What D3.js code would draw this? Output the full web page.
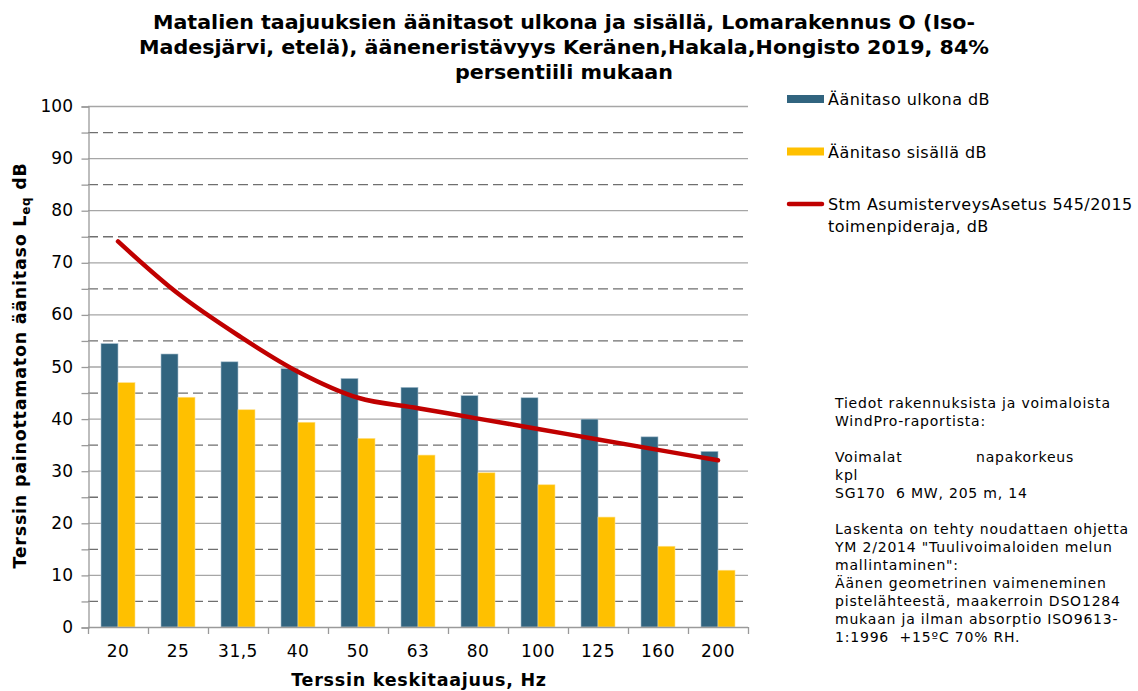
<!DOCTYPE html>
<html>
<head>
<meta charset="utf-8">
<script src="https://cdn.jsdelivr.net/npm/d3@7"></script>
<style>
  html, body { margin: 0; padding: 0; background: #fff; }
  svg { display: block; }
  text { font-family: "DejaVu Sans", Verdana, sans-serif; fill: #000; }
</style>
</head>
<body>
<svg id="chart" width="1138" height="691"></svg>
<script>
// Third-octave band centre frequencies (Hz)
const categories = ["20", "25", "31,5", "40", "50", "63", "80", "100", "125", "160", "200"];
// Outdoor sound level, dB
const outdoor = [54.4, 52.4, 50.9, 49.6, 47.7, 46.0, 44.4, 44.0, 39.9, 36.5, 33.7];
// Indoor sound level, dB
const indoor = [46.9, 44.1, 41.7, 39.3, 36.2, 33.0, 29.6, 27.3, 21.1, 15.5, 10.9];
// Housing health decree 545/2015 action limit, dB
const limit = [74, 64, 56, 49, 44, 42, 40, 38, 36, 34, 32];
const yTicks = [0, 10, 20, 30, 40, 50, 60, 70, 80, 90, 100];
const yMinor = [5, 15, 25, 35, 45, 55, 65, 75, 85, 95];

const titleLines = [
  "Matalien taajuuksien äänitasot ulkona ja sisällä, Lomarakennus O (Iso-",
  "Madesjärvi, etelä), ääneneristävyys Keränen,Hakala,Hongisto 2019, 84%",
  "persentiili mukaan"
];
const legendItems = [
  { type: "bar", color: "#31647f", lines: ["Äänitaso ulkona dB"] },
  { type: "bar", color: "#ffc000", lines: ["Äänitaso sisällä dB"] },
  { type: "line", color: "#c00000", lines: ["Stm AsumisterveysAsetus 545/2015", "toimenpideraja, dB"] }
];
const noteLines = [
  "Tiedot rakennuksista ja voimaloista",
  "WindPro-raportista:",
  "",
  "Voimalat              napakorkeus",
  "kpl",
  "SG170  6 MW, 205 m, 14",
  "",
  "Laskenta on tehty noudattaen ohjetta",
  "YM 2/2014 \"Tuulivoimaloiden melun",
  "mallintaminen\":",
  "Äänen geometrinen vaimeneminen",
  "pistelähteestä, maakerroin DSO1284",
  "mukaan ja ilman absorptio ISO9613-",
  "1:1996  +15ºC 70% RH."
];

const svg = d3.select("#chart");
const plot = { left: 88, right: 748, top: 106, bottom: 627 };

const x = d3.scaleBand().domain(categories).range([plot.left, plot.right]).paddingInner(0).paddingOuter(0);
const y = d3.scaleLinear().domain([0, 100]).range([plot.bottom, plot.top]);
const barW = 17;

// Title
svg.append("g").selectAll("text").data(titleLines).join("text")
  .attr("x", 564).attr("y", (d, i) => 29 + i * 25)
  .attr("text-anchor", "middle")
  .attr("font-size", 19).attr("font-weight", "bold")
  .attr("textLength", (d, i) => [822, 850, 218][i])
  .attr("lengthAdjust", "spacingAndGlyphs")
  .text(d => d);

// Gridlines: solid at every 10, dashed halfway between
svg.append("g").selectAll("line").data(yTicks.filter(d => d > 0)).join("line")
  .attr("x1", plot.left).attr("x2", plot.right)
  .attr("y1", d => y(d) + 0.5).attr("y2", d => y(d) + 0.5)
  .attr("stroke", "#a6a6a6").attr("stroke-width", 1.3);
svg.append("g").selectAll("line").data(yMinor).join("line")
  .attr("x1", plot.left).attr("x2", plot.right)
  .attr("y1", d => y(d) + 0.5).attr("y2", d => y(d) + 0.5)
  .attr("stroke", "#6f6f6f").attr("stroke-width", 1.3)
  .attr("stroke-dasharray", "10,5");

// Bars
const bars = svg.append("g");
bars.selectAll("rect.out").data(outdoor).join("rect")
  .attr("class", "out")
  .attr("x", (d, i) => x(categories[i]) + x.bandwidth() / 2 - barW)
  .attr("width", barW)
  .attr("y", d => y(d)).attr("height", d => y(0) - y(d))
  .attr("fill", "#31647f").attr("stroke", "#a9c0cf").attr("stroke-width", 0.6);
bars.selectAll("rect.in").data(indoor).join("rect")
  .attr("class", "in")
  .attr("x", (d, i) => x(categories[i]) + x.bandwidth() / 2)
  .attr("width", barW)
  .attr("y", d => y(d)).attr("height", d => y(0) - y(d))
  .attr("fill", "#ffc000").attr("stroke", "#ffe08a").attr("stroke-width", 0.6);

// Y axis
const yAxis = d3.axisLeft(y).tickValues(d3.range(0, 101, 5)).tickSize(7).tickFormat("");
const gy = svg.append("g").attr("transform", `translate(${plot.left + 0.5},0.5)`).call(yAxis);
gy.select(".domain").attr("stroke", "#9a9a9a").attr("stroke-width", 1.3);
gy.selectAll(".tick line").attr("stroke", "#9a9a9a").attr("stroke-width", 1.3);
svg.append("g").selectAll("text").data(yTicks).join("text")
  .attr("x", 73).attr("y", d => y(d) + 6)
  .attr("text-anchor", "end").attr("font-size", 17).attr("fill", "#000")
  .text(d => d);

// X axis with tick marks between categories
const xBounds = d3.range(categories.length + 1).map(i => plot.left + i * x.bandwidth());
const gx = svg.append("g");
gx.append("line").attr("x1", plot.left).attr("x2", plot.right)
  .attr("y1", y(0) + 0.5).attr("y2", y(0) + 0.5)
  .attr("stroke", "#9a9a9a").attr("stroke-width", 1.3);
gx.selectAll("line.t").data(xBounds).join("line").attr("class", "t")
  .attr("x1", d => d + 0.5).attr("x2", d => d + 0.5)
  .attr("y1", y(0)).attr("y2", y(0) + 7)
  .attr("stroke", "#9a9a9a").attr("stroke-width", 1.3);
gx.selectAll("text").data(categories).join("text")
  .attr("x", d => x(d) + x.bandwidth() / 2).attr("y", 657)
  .attr("text-anchor", "middle").attr("font-size", 17).attr("letter-spacing", 0.5)
  .text(d => d);

// Limit curve
const line = d3.line()
  .x((d, i) => x(categories[i]) + x.bandwidth() / 2)
  .y(d => y(d))
  .curve(d3.curveCatmullRom.alpha(0.5));
svg.append("path").datum(limit)
  .attr("d", line).attr("fill", "none")
  .attr("stroke", "#c00000").attr("stroke-width", 4.5)
  .attr("stroke-linecap", "round").attr("stroke-linejoin", "round");

// Axis titles
const yt = svg.append("text")
  .attr("transform", `translate(26,${(plot.top + plot.bottom) / 2 - 1}) rotate(-90)`)
  .attr("text-anchor", "middle").attr("font-size", 17.5).attr("font-weight", "bold")
  .attr("letter-spacing", 0.75);
yt.append("tspan").text("Terssin painottamaton äänitaso L");
yt.append("tspan").attr("font-size", 12).attr("dy", 4).text("eq");
yt.append("tspan").attr("dy", -4).text(" dB");

svg.append("text").attr("x", 419).attr("y", 686)
  .attr("text-anchor", "middle").attr("font-size", 17.5).attr("font-weight", "bold")
  .attr("letter-spacing", 0.75)
  .text("Terssin keskitaajuus, Hz");

// Legend
const lg = svg.append("g");
legendItems.forEach((it, i) => {
  const cy = 99 + i * 52.5;
  if (it.type === "bar") {
    lg.append("rect").attr("x", 787).attr("y", cy - 4).attr("width", 37).attr("height", 8).attr("fill", it.color);
  } else {
    lg.append("line").attr("x1", 789).attr("x2", 822).attr("y1", cy).attr("y2", cy)
      .attr("stroke", it.color).attr("stroke-width", 4.5).attr("stroke-linecap", "round");
  }
  it.lines.forEach((t, j) => {
    lg.append("text").attr("x", 828).attr("y", cy + 6 + j * 22)
      .attr("font-size", 16).attr("letter-spacing", 0.45).text(t);
  });
});

// Notes
svg.append("g").selectAll("text").data(noteLines).join("text")
  .attr("x", 835).attr("y", (d, i) => 408 + i * 18)
  .attr("font-size", 14).attr("letter-spacing", 0.8)
  .attr("xml:space", "preserve").style("white-space", "pre")
  .text(d => d);
</script>
</body>
</html>
